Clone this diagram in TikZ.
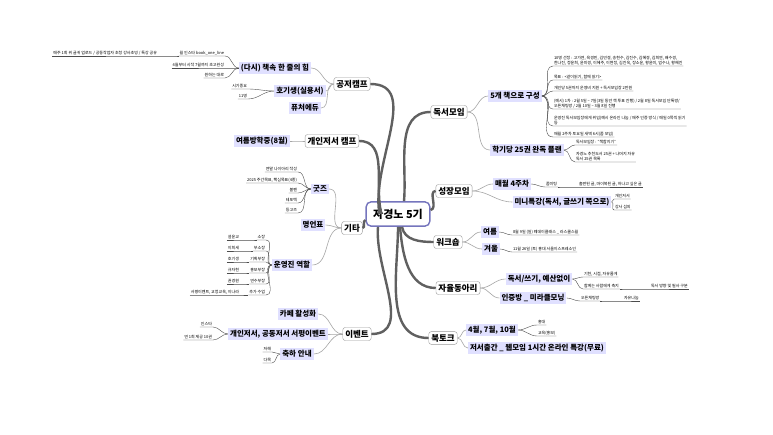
\documentclass[tikz,border=0pt]{standalone}
\usepackage{fontspec}
\setmainfont{Noto Sans CJK KR}
\tikzset{
  root/.style={draw=blue!35!gray!80, line width=1.4pt, rounded corners=5pt, fill=white, font=\bfseries\fontsize{11}{12}\selectfont, inner sep=7pt},
  branch/.style={draw=gray!80, rounded corners=2.5pt, fill=white, font=\bfseries\fontsize{8.5}{10}\selectfont, inner sep=2.5pt},
  sub/.style={fill=blue!12, font=\bfseries\fontsize{7.5}{8}\selectfont, inner sep=2pt},
  leaf/.style={font=\fontsize{4}{4.8}\selectfont, inner sep=0.8pt, align=left},
  trunk/.style={draw=gray!75!black, line width=2.4pt},
  limb/.style={draw=gray!70, line width=0.6pt},
  twig/.style={draw=gray!60!black, line width=0.4pt}
}
% leaf left of its parent: parent anchor, name, east end, text
\newcommand\leafl[4]{%
  \node[leaf, anchor=south east] (#2) at (#3) {#4};
  \draw[twig] (#2.south west) -- (#2.south east) to[out=0, in=180] (#1);}
% leaf right of its parent
\newcommand\leafr[4]{%
  \node[leaf, anchor=south west] (#2) at (#3) {#4};
  \draw[twig] (#2.south east) -- (#2.south west) to[out=180, in=0] (#1);}
\begin{document}
\begin{tikzpicture}[x=1pt, y=-1pt]
  \useasboundingbox[fill=white] (0,0) rectangle (773,435);

  % centre
  \node[root] (c) at (398,214) {자경노 5기};

  % main branches
  \node[branch] (gj) at (352,84) {공저캠프};
  \node[branch] (gc) at (332,141) {개인저서 캠프};
  \node[branch] (gt) at (352,228) {기타};
  \node[branch] (ev) at (357,334) {이벤트};
  \node[branch] (ds) at (449,112) {독서모임};
  \node[branch] (sj) at (454,191) {성장모임};
  \node[branch] (ws) at (448,242) {워크숍};
  \node[branch] (jy) at (458,288) {자율동아리};
  \node[branch] (bt) at (443,338) {북토크};

  \draw[trunk] (c.west) ++(14,0) to[out=100, in=0] (gj.east);
  \draw[trunk] (c.west) ++(16,0) to[out=105, in=0] (gc.east);
  \draw[trunk] (c.west) ++(0,6) to[out=190, in=0] (gt.east);
  \draw[trunk] (c.south) ++(-20,0) to[out=-95, in=0] (ev.east);
  \draw[trunk] (c.north) ++(6,0) to[out=85, in=180] (ds.west);
  \draw[trunk] (c.east) ++(0,-4) to[out=10, in=180] (sj.west);
  \draw[trunk] (c.south) ++(4,0) to[out=-80, in=180] (ws.west);
  \draw[trunk] (c.south) ++(2,0) to[out=-85, in=180] (jy.west);
  \draw[trunk] (c.south) ++(0,0) to[out=-90, in=180] (bt.west);

  % left sub topics
  \node[sub] (hj) at (275,68) {(다시) 책속 한 줄의 힘};
  \node[sub] (hg) at (300,91) {호기생(실용서)};
  \node[sub] (fe) at (305,108) {퓨처에듀};
  \node[sub] (ym) at (262,141) {여름방학중(8월)};
  \node[sub] (gz) at (320,189) {굿즈};
  \node[sub] (my) at (313,225) {명언표};
  \node[sub] (uy) at (292,265) {운영진 역할};
  \node[sub] (cf) at (298,314) {카페 활성화};
  \node[sub] (sp) at (278,334) {개인저서, 공동저서 서평이벤트};
  \node[sub] (ch) at (297,354) {축하 안내};
  \foreach \s/\p in {hj/gj, hg/gj, fe/gj, ym/gc, gz/gt, my/gt, uy/gt, cf/ev, sp/ev, ch/ev}
    \draw[limb] (\s.east) to[out=0, in=180] (\p.west);

  % right sub topics
  \node[sub] (b5) at (515,96) {5개 책으로 구성};
  \node[sub] (p25) at (527,150) {학기당 25권 완독 플랜};
  \node[sub] (m4) at (512,184) {매월 4주차};
  \node[sub] (mt) at (562,202) {미니특강(독서, 글쓰기 쪽으로)};
  \node[sub] (su) at (490,232) {여름};
  \node[sub] (wi) at (491,249) {겨울};
  \node[sub] (dw) at (539,279) {독서/쓰기, 예산없이};
  \node[sub] (mm) at (533,298) {인증방 \_ 미라클모닝};
  \node[sub] (am) at (492,330) {4월, 7월, 10월};
  \node[sub] (on) at (537,348) {저서출간 \_ 웹모임 1시간 온라인 특강(무료)};
  \foreach \s/\p in {b5/ds, p25/ds, m4/sj, mt/sj, su/ws, wi/ws, dw/jy, mm/jy, am/bt, on/bt}
    \draw[limb] (\s.west) to[out=180, in=0] (\p.east);

  % left leaves
  \leafl{hj.west}{l1}{225,56}{월 인스타 book\_one\_line}
  \leafl{l1.south west}{l1a}{158,56}{매주 1회 위 글귀 업로드 / 공동작업자 초청 강사초빙 / 특강 공유}
  \leafl{hj.west}{l2}{225,68}{4월부터 시작 7월까지 초고완성}
  \leafl{hj.west}{l3}{225,78}{원하는 대로}
  \leafl{hg.west}{l4}{248,89}{시기중요}
  \leafl{hg.west}{l5}{248,99}{11명}
  \leafl{gz.west}{g1}{298,172}{연말 나이아리 작성}
  \leafl{gz.west}{g2}{298,183}{2025 주간목표, 핵심목표(4종)}
  \leafl{gz.west}{g3}{298,193}{볼펜}
  \leafl{gz.west}{g4}{298,203}{테포텍}
  \leafl{gz.west}{g5}{298,213}{등고즈}
  \foreach \n/\y/\r/\w in {1/240/소장/설윤교, 2/251/부소장/이희세, 3/262/기획부장/호기생,
                           4/273/홍보부장/규자현, 5/284/연수부장/권경원, 6/295/추가 수업/{서평이벤트, 교정교육, 이나라}} {
    \leafl{uy.west}{r\n}{266,\y}{\r}
    \leafl{r\n.south west}{p\n}{240,\y}{\w}
  }
  \leafl{sp.west}{e1}{213,327}{인스타}
  \leafl{sp.west}{e2}{213,340}{연 1회 제공 10권}
  \leafl{ch.west}{e3}{272,352}{저해}
  \leafl{ch.west}{e4}{272,363}{다목}

  % right leaves
  \leafr{b5.east}{d1}{553,66}{10명 선정 : 고가연, 육경민, 김민경, 송현수, 김진수, 김혜경, 김희연, 배수경,\\한나진, 정윤희, 윤미경, 이혜주, 이현정, 김진욱, 장소윤, 황윤미, 엄수나, 황혜진}
  \leafr{b5.east}{d2}{553,80}{목표 : <같이읽기, 함께 읽기>}
  \leafr{b5.east}{d3}{553,91}{개인당 5권까지 운영비 지원 + 독서모임장 2만원}
  \leafr{b5.east}{d4}{553,109}{(예시) 1차 : 2월 5일 \textasciitilde{} 7일(3일 동안 책 투표 진행) / 2월 8일 독서모임 단톡방/\\오픈채팅방 / 2월 10일 \textasciitilde{} 3월 8일 진행}
  \leafr{b5.east}{d5}{553,126}{운영진 독서모임장에게 위임(예시 온라인 나눔 / 매주 인증 방식 / 매일 0쪽씩 읽기\\등}
  \leafr{b5.east}{d6}{553,137}{매월 2주차 토요일 새벽 6시(줌 모임)}
  \leafr{p25.east}{d7}{575,145}{독서모임장 : "책합지기"}
  \leafr{p25.east}{d8}{575,162}{자경노 추천도서 25권 + 나머지 자유\\독서 25권 목록}
  \leafr{m4.east}{k1}{545,187}{줌미팅}
  \leafr{k1.south east}{k2}{578,187}{출판된 글, 마이북된 글, 하나고 싶은 글}
  \leafr{mt.east}{k3}{614,199}{개인저서}
  \leafr{mt.east}{k4}{614,210}{강사 섭외}
  \leafr{su.east}{w1}{512,235}{8월 9일 (일) 웨데이클래스 \_ 라스쿨스월}
  \leafr{wi.east}{w2}{512,252}{11월 26일 (토) 홍대 서울이스프레소인}
  \leafr{dw.east}{j1}{583,277}{기한, 시점, 자유롭게}
  \leafr{dw.east}{j2}{583,289}{함께는 사람에게 축지}
  \leafr{j2.south east}{j3}{650,289}{독서 방향 및 필사 구분}
  \leafr{mm.east}{j4}{580,301}{오픈채팅방}
  \leafr{j4.south east}{j5}{623,301}{자유나눔}
  \leafr{am.east}{t1}{537,325}{홍대}
  \leafr{am.east}{t2}{537,336}{교육(홍보)}
\end{tikzpicture}
\end{document}
